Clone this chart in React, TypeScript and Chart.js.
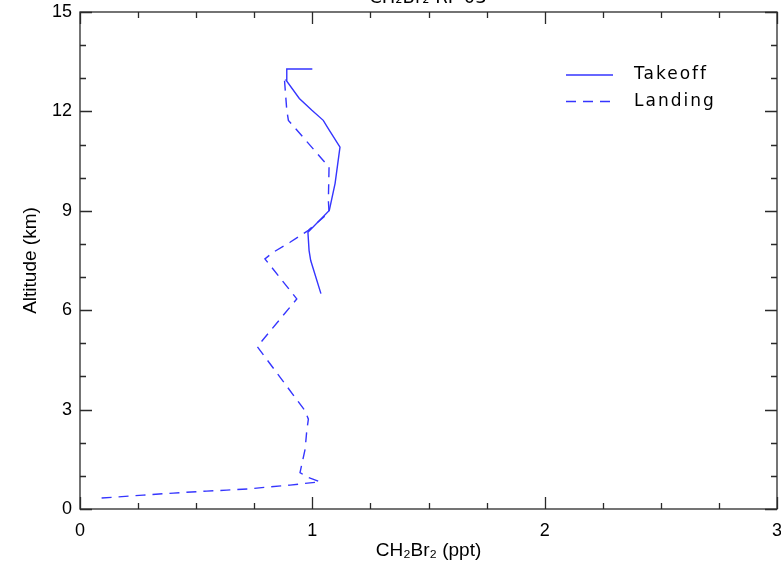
import React, { useEffect, useRef } from 'react';
import { Chart, registerables } from 'chart.js';

Chart.register(...registerables);

// ---- data ----
const takeoffAltitude = [6.5, 7.5, 7.8, 8.35, 9.01, 9.83, 10.92, 11.49, 11.73, 12.04, 12.39, 12.94, 13.28, 13.28];
const takeoffValue = [1.037, 0.993, 0.986, 0.981, 1.073, 1.098, 1.119, 1.068, 1.047, 0.997, 0.944, 0.887, 0.89, 1.0];

const landingAltitude = [0.33, 0.42, 0.48, 0.54, 0.57, 0.61, 0.67, 0.72, 0.79, 0.82, 0.97, 1.1, 1.81, 2.36, 2.71, 2.96, 4.9, 6.34, 7.55, 7.75, 8.05, 8.41, 8.95, 9.31, 10.32, 10.52, 11.73, 12.04, 12.96];
const landingValue = [0.093, 0.272, 0.402, 0.545, 0.632, 0.732, 0.818, 0.904, 0.99, 1.033, 0.976, 0.947, 0.969, 0.976, 0.983, 0.969, 0.763, 0.933, 0.796, 0.832, 0.904, 0.983, 1.072, 1.069, 1.072, 1.047, 0.897, 0.89, 0.88];

const seriesNames = ['Takeoff', 'Landing'];
const xRange = [0, 3];
const yRange = [0, 15];
const xMajorStep = 1;
const yMajorStep = 3;
const xMinorStep = 0.25;
const yMinorStep = 1;
const chartTitle = 'CH\u2082Br\u2082 RF 03';
const xTitle = 'CH\u2082Br\u2082 (ppt)';
const yTitle = 'Altitude (km)';

const LINE_BLUE = '#3535ff';
const FONT = "'Liberation Sans', Arial, sans-serif";

const toPoints = (xs: number[], ys: number[]) => xs.map((v, i) => ({ x: v, y: ys[i] }));

const framePlugin = {
  id: 'idlFrame',
  afterDatasetsDraw(chart: any) {
    const { ctx, chartArea: a, scales } = chart;
    const xs = scales.x;
    const ys = scales.y;
    ctx.save();
    ctx.strokeStyle = '#2a2a2a';
    ctx.lineWidth = 1.3;
    ctx.setLineDash([]);
    ctx.strokeRect(a.left, a.top, a.right - a.left, a.bottom - a.top);
    // inward ticks, x
    const nx = Math.round((xRange[1] - xRange[0]) / xMinorStep);
    for (let i = 0; i <= nx; i++) {
      const v = xRange[0] + i * xMinorStep;
      const px = Math.round(xs.getPixelForValue(v)) + 0.5;
      const major = Math.abs(v / xMajorStep - Math.round(v / xMajorStep)) < 1e-6;
      const len = major ? 12 : 6;
      ctx.beginPath();
      ctx.moveTo(px, a.bottom);
      ctx.lineTo(px, a.bottom - len);
      ctx.moveTo(px, a.top);
      ctx.lineTo(px, a.top + len);
      ctx.stroke();
    }
    const ny = Math.round((yRange[1] - yRange[0]) / yMinorStep);
    for (let i = 0; i <= ny; i++) {
      const v = yRange[0] + i * yMinorStep;
      const py = Math.round(ys.getPixelForValue(v)) + 0.5;
      const major = Math.abs(v / yMajorStep - Math.round(v / yMajorStep)) < 1e-6;
      const len = major ? 12 : 6;
      ctx.beginPath();
      ctx.moveTo(a.left, py);
      ctx.lineTo(a.left + len, py);
      ctx.moveTo(a.right, py);
      ctx.lineTo(a.right - len, py);
      ctx.stroke();
    }
    // legend
    chart.data.datasets.forEach((ds: any, i: number) => {
      const ly = 75 + i * 26.5;
      ctx.strokeStyle = ds.borderColor;
      ctx.lineWidth = ds.borderWidth;
      ctx.setLineDash(ds.borderDash || []);
      ctx.beginPath();
      ctx.moveTo(566, ly);
      ctx.lineTo(613, ly);
      ctx.stroke();
      ctx.setLineDash([]);
      ctx.fillStyle = '#000';
      ctx.font = "17px 'DejaVu Sans', sans-serif";
      (ctx as any).letterSpacing = '2px';
      ctx.textAlign = 'left';
      ctx.textBaseline = 'middle';
      ctx.fillText(ds.label, 634, ly);
    });
    (ctx as any).letterSpacing = '0px';
    // title (clipped at the top edge, as in the reference)
    ctx.fillStyle = '#000';
    ctx.font = "18px 'DejaVu Sans', sans-serif";
    ctx.textAlign = 'center';
    ctx.textBaseline = 'alphabetic';
    ctx.fillText(chartTitle, 428, 3);
    ctx.restore();
  },
};

export default function App() {
  const ref = useRef<HTMLCanvasElement | null>(null);
  useEffect(() => {
    document.body.style.margin = '0';
    const canvas = ref.current;
    if (!canvas) return;
    const chart = new Chart(canvas, {
      type: 'scatter',
      data: {
        datasets: [
          {
            label: seriesNames[0],
            data: toPoints(takeoffValue, takeoffAltitude),
            showLine: true,
            borderColor: LINE_BLUE,
            backgroundColor: LINE_BLUE,
            borderWidth: 1.4,
            pointRadius: 0,
            tension: 0,
          },
          {
            label: seriesNames[1],
            data: toPoints(landingValue, landingAltitude),
            showLine: true,
            borderColor: LINE_BLUE,
            backgroundColor: LINE_BLUE,
            borderWidth: 1.4,
            borderDash: [10, 7],
            pointRadius: 0,
            tension: 0,
          },
        ],
      },
      options: {
        responsive: false,
        animation: false,
        layout: { padding: { top: 12, right: 4, left: 0, bottom: 0 } },
        plugins: {
          legend: { display: false },
          tooltip: { enabled: false },
          title: { display: false },
        },
        scales: {
          x: {
            type: 'linear',
            min: xRange[0],
            max: xRange[1],
            grid: { display: false, drawTicks: false },
            border: { display: false },
            ticks: {
              stepSize: xMajorStep,
              color: '#000',
              font: { family: FONT, size: 18 },
              padding: 11,
              maxRotation: 0,
            },
            title: {
              display: true,
              text: xTitle,
              color: '#000',
              font: { family: FONT, size: 19 },
              padding: { top: 0, bottom: 6 },
            },
            afterFit: (s: any) => {
              s.height = 59;
              s.paddingLeft = 0;
              s.paddingRight = 0;
            },
          },
          y: {
            type: 'linear',
            min: yRange[0],
            max: yRange[1],
            grid: { display: false, drawTicks: false },
            border: { display: false },
            ticks: {
              stepSize: yMajorStep,
              color: '#000',
              font: { family: FONT, size: 18 },
              padding: 8,
            },
            title: {
              display: true,
              text: yTitle,
              color: '#000',
              font: { family: FONT, size: 19 },
              padding: { top: 19, bottom: 0 },
            },
            afterFit: (s: any) => {
              s.width = 80;
              s.paddingTop = 0;
              s.paddingBottom = 0;
            },
          },
        },
      },
      plugins: [framePlugin],
    } as any);
    return () => chart.destroy();
  }, []);
  return (
    <div style={{ width: 781, height: 568 }}>
      <canvas ref={ref} width={781} height={568} style={{ display: 'block' }} />
    </div>
  );
}
